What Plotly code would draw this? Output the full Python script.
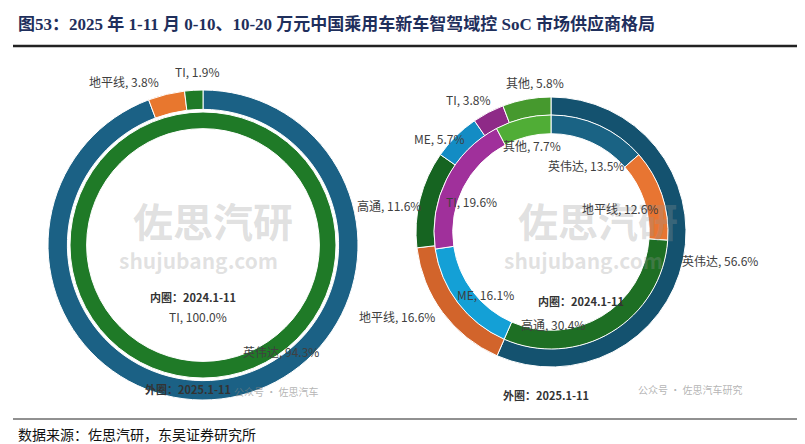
import plotly.graph_objects as go

W, H = 805, 444
# Left chart
left_outer_labels = ["英伟达", "地平线", "TI"]
left_outer_values = [94.3, 3.8, 1.9]
left_outer_colors = ["#1b6185", "#e8772e", "#1f7a27"]
left_inner_labels = ["TI"]
left_inner_values = [100.0]
left_inner_colors = ["#1f7a27"]
# Right chart
right_outer_labels = ["英伟达", "地平线", "高通", "ME", "TI", "其他"]
right_outer_values = [56.6, 16.6, 11.6, 5.7, 3.8, 5.8]
right_outer_colors = ["#14526f", "#d2642b", "#166421", "#138cc4", "#8e2a87", "#46992e"]
right_inner_labels = ["英伟达", "地平线", "高通", "ME", "TI", "其他"]
right_inner_values = [13.5, 12.6, 30.4, 16.1, 19.6, 7.7]
right_inner_colors = ["#1a6384", "#e87532", "#1e6f24", "#14a0d6", "#a0309b", "#50ad36"]

def dom(cx, cy, r):
    return dict(x=[(cx - r) / W, (cx + r) / W], y=[1 - (cy + r) / H, 1 - (cy - r) / H])

fig = go.Figure()
def pie(labels, values, colors, cx, cy, r, hole):
    fig.add_trace(go.Pie(labels=labels, values=values, marker=dict(colors=colors, line=dict(color="white", width=1)),
                         domain=dom(cx, cy, r), hole=hole, sort=False, direction="clockwise", rotation=0,
                         textinfo="none", hoverinfo="label+value", showlegend=False))

pie(left_outer_labels, left_outer_values, left_outer_colors, 195, 237, 155, 0.875)
pie(left_inner_labels, left_inner_values, left_inner_colors, 195, 237, 133, 0.875)
pie(right_outer_labels, right_outer_values, right_outer_colors, 543, 224, 135, 0.865)
pie(right_inner_labels, right_inner_values, right_inner_colors, 543, 224, 117, 0.84)

def txt(x, y, s, size=12, color="#404040", bold=False, anchor="center", fam="Noto Sans CJK SC"):
    fig.add_annotation(x=x / W, y=1 - y / H, xref="paper", yref="paper", text=f"<b>{s}</b>" if bold else s,
                       showarrow=False, font=dict(size=size, color=color, family=fam), xanchor=anchor, yanchor="middle")

# watermarks
for cx in (205, 590):
    txt(cx, 212, "佐思汽研", size=40, color="rgba(150,150,150,0.3)", bold=True)
    txt(cx - 15, 252, "shujubang.com", size=21, color="rgba(150,150,150,0.28)", bold=True)
txt(268, 383, "公众号 · 佐思汽车", size=10, color="rgba(130,130,130,0.6)")
txt(682, 381, "公众号 · 佐思汽车研究", size=10, color="rgba(130,130,130,0.6)")

# left labels
txt(116, 73, "地平线, 3.8%"); txt(189, 63, "TI, 1.9%")
txt(185, 289, "内圈：2024.1-11", size=11, color="#333", bold=True)
txt(190, 308, "TI, 100.0%"); txt(273, 343, "英伟达, 94.3%")
txt(180, 381, "外圈：2025.1-11", size=11, color="#333", bold=True)
# right labels
txt(527, 75, "其他, 5.8%"); txt(460, 91, "TI, 3.8%"); txt(432, 130, "ME, 5.7%")
txt(381, 197, "高通, 11.6%"); txt(389, 308, "地平线, 16.6%"); txt(712, 253, "英伟达, 56.6%")
txt(524, 138, "其他, 7.7%"); txt(578, 157, "英伟达, 13.5%"); txt(463, 193, "TI, 19.6%")
txt(612, 201, "地平线, 12.6%"); txt(477, 286, "ME, 16.1%")
txt(573, 293, "内圈：2024.1-11", size=11, color="#333", bold=True)
txt(545, 316, "高通, 30.4%")
txt(538, 387, "外圈：2025.1-11", size=11, color="#333", bold=True)

txt(8, 16, "图53：2025 年 1-11 月 0-10、10-20 万元中国乘用车新车智驾域控 SoC 市场供应商格局", size=17,
    color="#1f2f5c", bold=True, anchor="left", fam="Liberation Serif, Noto Sans CJK SC")
txt(8, 427, "数据来源：佐思汽研，东吴证券研究所", size=14, color="#111", anchor="left",
    fam="Liberation Serif, Noto Sans CJK SC")

fig.add_shape(type="line", xref="paper", yref="paper", x0=5 / W, x1=800 / W, y0=1 - 38 / H, y1=1 - 38 / H,
              line=dict(color="#222", width=2.5))
fig.add_shape(type="line", xref="paper", yref="paper", x0=5 / W, x1=800 / W, y0=1 - 411 / H, y1=1 - 411 / H,
              line=dict(color="#222", width=1))

fig.update_layout(width=W, height=H, margin=dict(l=0, r=0, t=0, b=0), paper_bgcolor="white", plot_bgcolor="white")
fig.write_html("out.html")
